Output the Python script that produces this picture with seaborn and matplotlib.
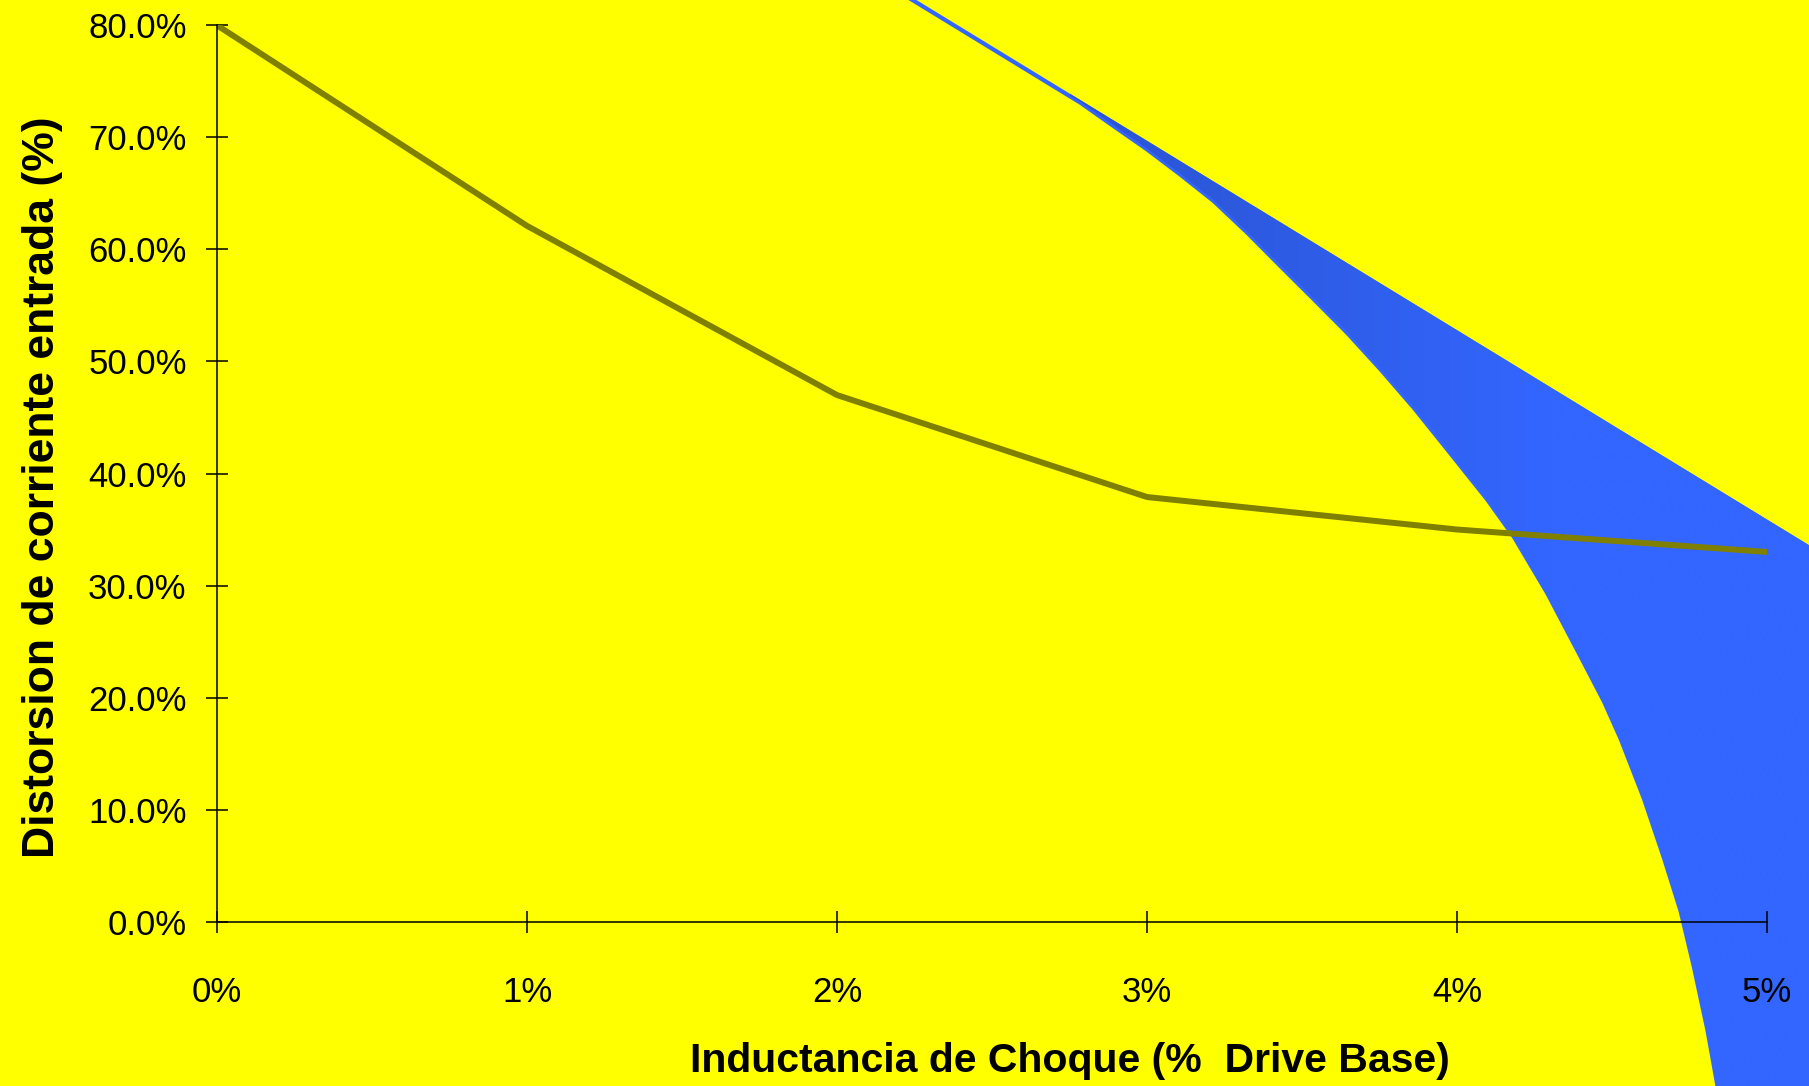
import numpy as np
import pandas as pd
import matplotlib
matplotlib.use("Agg")
import matplotlib.pyplot as plt
import seaborn as sns
from matplotlib.patches import Polygon
from matplotlib.colors import LinearSegmentedColormap

# Choke inductance (% of drive base) vs. input current distortion (%)
inductance = [0, 1, 2, 3, 4, 5]
distortion = [80.0, 62.1, 47.0, 37.9, 35.0, 33.0]

x_ticks = [0, 1, 2, 3, 4, 5]
x_tick_labels = ["0%", "1%", "2%", "3%", "4%", "5%"]
y_ticks = [0, 10, 20, 30, 40, 50, 60, 70, 80]
y_tick_labels = ["0.0%", "10.0%", "20.0%", "30.0%", "40.0%",
                 "50.0%", "60.0%", "70.0%", "80.0%"]

# Blue sweep shape: straight upper edge and curved lower edge (data units)
sweep_upper_x = [2.000, 2.784, 5.600]
sweep_upper_y = [86.59, 73.34, 25.75]
sweep_lower_x = [2.000, 2.784, 2.891, 2.999, 3.106, 3.214, 3.322, 3.429,
                 3.537, 3.644, 3.752, 3.859, 3.967, 4.096, 4.182, 4.289,
                 4.397, 4.472, 4.526, 4.601, 4.666, 4.719, 4.762, 4.806,
                 4.838, 4.870]
sweep_lower_y = [86.30, 73.04, 70.95, 68.87, 66.63, 64.26, 61.44, 58.46,
                 55.49, 52.51, 49.24, 45.82, 42.10, 37.63, 34.30, 29.30,
                 23.62, 19.63, 16.29, 10.95, 5.62, 0.95, -4.05, -9.73,
                 -14.66, -20.00]

df = pd.DataFrame({"inductance": inductance, "distortion": distortion})

sns.set_theme(style="ticks")
plt.rcParams["font.family"] = ["Liberation Sans", "DejaVu Sans"]

YELLOW = "#ffff00"
fig = plt.figure(figsize=(18.09, 10.86), dpi=100, facecolor=YELLOW)
ax = fig.add_axes([0.11996, 0.15129, 0.85683, 0.82541])
ax.set_facecolor(YELLOW)
ax.set_axisbelow(False)

# Sweep polygon (extends past the axes, clipped only by the figure)
verts = (list(zip(sweep_upper_x, sweep_upper_y))
         + [(5.60, -25.0), (4.87, -25.0)]
         + list(zip(sweep_lower_x[::-1], sweep_lower_y[::-1])))
poly = Polygon(verts, closed=True, facecolor="#3366ff", edgecolor="none",
               zorder=0.5, clip_on=False)
ax.add_patch(poly)

# Horizontal shading inside the sweep
x0, x1 = 2.75, 5.60
cmap = LinearSegmentedColormap.from_list(
    "sweep", [(0.0, "#2a53cf"), ((4.3 - x0) / (x1 - x0), "#3366ff"), (1.0, "#3366ff")])
grad = np.linspace(0, 1, 512).reshape(1, -1)
im = ax.imshow(grad, extent=[x0, x1, -25, 90], cmap=cmap, aspect="auto",
               origin="lower", interpolation="bilinear", zorder=0.55)
im.set_clip_path(poly)
im.set_clip_box(fig.bbox)

# Light outline along the curved edge
ax.plot(sweep_lower_x, sweep_lower_y, color="#3366ff", lw=2.0,
        clip_on=False, zorder=0.6)

# Distortion curve
sns.lineplot(data=df, x="inductance", y="distortion", ax=ax,
             color="#808000", lw=4.3, zorder=3,
             solid_capstyle="round", solid_joinstyle="round")

ax.set_xlim(0, 5)
ax.set_ylim(0, 80)
ax.set_xticks(x_ticks)
ax.set_xticklabels(x_tick_labels)
ax.set_yticks(y_ticks)
ax.set_yticklabels(y_tick_labels)

ax.tick_params(direction="inout", length=15.7, width=1.1, colors="black",
               labelsize=25)
ax.tick_params(axis="x", pad=31)
ax.tick_params(axis="y", pad=14)

for side in ("top", "right"):
    ax.spines[side].set_visible(False)
for side in ("left", "bottom"):
    ax.spines[side].set_color("black")
    ax.spines[side].set_linewidth(1.1)
    ax.spines[side].set_zorder(4)

ax.set_xlabel("Inductancia de Choque (%  Drive Base)", fontsize=29.5,
              fontweight="bold", color="black")
ax.xaxis.label.set_va("center")
ax.xaxis.set_label_coords(0.550, -0.155)

ax.set_ylabel("Distorsion de corriente entrada (%)", fontsize=32,
              fontweight="bold", color="black")
ax.yaxis.label.set_va("center")
ax.yaxis.set_label_coords(-0.1123, 0.485)

fig.savefig("out.png", dpi=100, facecolor=YELLOW)
